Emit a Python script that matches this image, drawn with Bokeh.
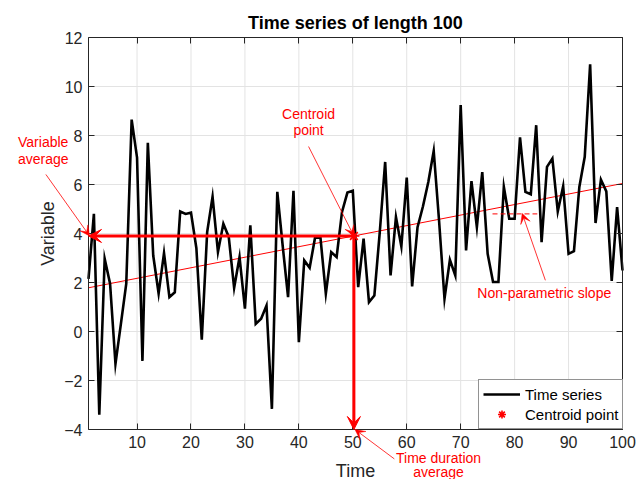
import numpy as np
from bokeh.plotting import figure
from bokeh.models import (Range1d, LinearAxis, FixedTicker, Arrow, VeeHead, Label,
                          CustomLabelingPolicy, Grid)
from bokeh.embed import file_html
from bokeh.resources import INLINE

# ---- data -------------------------------------------------------------
time = np.arange(1, 101)
variable = [
    2.15, 4.80, -3.40, 2.97, 1.95, -1.32, 0.30, 1.95, 8.65, 7.10,
    -1.20, 7.70, 3.10, 1.55, 3.20, 1.40, 1.60, 4.90, 4.80, 4.85,
    3.40, -0.33, 4.06, 5.50, 3.25, 4.40, 3.86, 1.78, 3.04, 0.93,
    4.33, 0.31, 0.52, 1.06, -3.16, 5.70, 3.50, 1.40, 5.74, -0.44,
    2.90, 2.60, 3.83, 3.83, 1.54, 3.24, 3.04, 4.88, 5.67, 5.74,
    1.81, 3.79, 1.20, 1.47, 4.06, 6.92, 2.29, 4.67, 3.47, 6.28,
    1.84, 4.26, 5.10, 6.10, 7.37, 4.50, 1.34, 2.93, 2.29, 9.24,
    3.31, 6.14, 4.26, 6.51, 3.17, 2.02, 2.02, 5.90, 4.60, 4.60,
    7.92, 5.70, 5.60, 8.42, 3.65, 6.72, 7.06, 4.90, 5.93, 3.17,
    3.28, 5.90, 7.13, 10.91, 4.43, 6.20, 5.72, 2.06, 5.08, 2.49,
]
centroid_time = 50.2          # time-duration average
variable_average = 3.9        # variable average
slope = 0.043                 # non-parametric (Sen) slope through the centroid
x_ticks = [10, 20, 30, 40, 50, 60, 70, 80, 90, 100]
y_ticks = [-4, -2, 0, 2, 4, 6, 8, 10, 12]
x_lim = (1, 100)
y_lim = (-4, 12)

FONT = "Liberation Sans"
RED = "#ff0000"
AXC = "#262626"

# The frame fills the whole canvas so that annotations may sit outside the
# axes box; the box itself is drawn with axes pinned to the data limits.
W, H = 636, 479
BOX_L, BOX_R, BOX_T, BOX_B = 88, 622, 37, 429
sx = (BOX_R - BOX_L) / (x_lim[1] - x_lim[0])
sy = (BOX_B - BOX_T) / (y_lim[1] - y_lim[0])
x_range = Range1d(x_lim[0] - BOX_L / sx, x_lim[1] + (W - BOX_R) / sx)
y_range = Range1d(y_lim[0] - (H - BOX_B) / sy, y_lim[1] + BOX_T / sy)

p = figure(width=W, height=H, output_backend="svg", toolbar_location=None,
           x_range=x_range, y_range=y_range,
           x_axis_location=None, y_axis_location=None,
           min_border=0, background_fill_color="white",
           border_fill_color="white")
p.outline_line_color = None
p.title.visible = False
p.center = [r for r in p.center if not isinstance(r, Grid)]

# grid lines inside the axes box
p.segment(x0=x_ticks, y0=[y_lim[0]] * len(x_ticks), x1=x_ticks,
          y1=[y_lim[1]] * len(x_ticks), line_color="#e3e3e3", line_width=1)
p.segment(x0=[x_lim[0]] * len(y_ticks), y0=y_ticks, x1=[x_lim[1]] * len(y_ticks),
          y1=y_ticks, line_color="#e3e3e3", line_width=1)

no_labels = CustomLabelingPolicy(code="return new Set()")


def box_axis(side, ticks, at, bounds, label=None, show_labels=True):
    ax = LinearAxis(fixed_location=at, bounds=bounds, ticker=FixedTicker(ticks=ticks))
    ax.major_tick_in = 6
    ax.major_tick_out = 0
    ax.minor_tick_line_color = None
    ax.axis_line_color = AXC
    ax.major_tick_line_color = AXC
    ax.major_label_text_font = FONT
    ax.major_label_text_font_size = "16px"
    ax.major_label_text_color = AXC
    ax.major_label_standoff = 6
    if not show_labels:
        ax.major_label_policy = no_labels
    if label:
        ax.axis_label = label
        ax.axis_label_text_font = FONT
        ax.axis_label_text_font_size = "18px"
        ax.axis_label_text_font_style = "normal"
        ax.axis_label_text_color = AXC
    p.add_layout(ax, side)
    return ax


bottom = box_axis("below", x_ticks, y_lim[0], x_lim, "Time")
bottom.axis_label_standoff = 10
left = box_axis("left", y_ticks, x_lim[0], y_lim, "Variable")
left.axis_label_standoff = 3
box_axis("above", x_ticks, y_lim[1], x_lim, show_labels=False)
box_axis("right", y_ticks, x_lim[1], y_lim, show_labels=False)

# title
p.add_layout(Label(x=(x_lim[0] + x_lim[1]) / 2, y=y_lim[1] + 15 / sy,
                   text="Time series of length 100", text_font=FONT,
                   text_font_size="18px", text_font_style="bold", text_color="black",
                   text_align="center", text_baseline="middle"))

# Sen slope line through the centroid
slope_x = np.array(x_lim, dtype=float)
slope_y = variable_average + slope * (slope_x - centroid_time)
p.line(slope_x, slope_y, line_color=RED, line_width=1)

# the series
p.line(time, variable, line_color="black", line_width=2.6, line_join="miter",
       legend_label="Time series")

# dashed slope marker
p.line([75.9, 84.2], [4.8, 4.8], line_color=RED, line_width=1, line_dash="5 3")

# centroid arrows to the axes
for xe, ye in ((x_lim[0], variable_average), (centroid_time, y_lim[0])):
    p.add_layout(Arrow(x_start=centroid_time, y_start=variable_average,
                       x_end=xe, y_end=ye, line_color=RED, line_width=3,
                       end=VeeHead(size=13, fill_color=RED, line_color=RED,
                                   line_width=1)))

p.scatter([centroid_time], [variable_average], marker="asterisk", size=11,
          line_color=RED, line_width=1.6, legend_label="Centroid point")


# text annotations with thin arrows
def note(lines, xs, ys, start, end):
    for txt, x, y in zip(lines, xs, ys):
        p.add_layout(Label(x=x, y=y, text=txt, text_font=FONT, text_font_size="14px",
                           text_color=RED, text_align="center",
                           text_baseline="middle"))
    p.add_layout(Arrow(x_start=start[0], y_start=start[1], x_end=end[0], y_end=end[1],
                       line_color=RED, line_width=0.8,
                       end=VeeHead(size=10, fill_color=RED, line_color=RED,
                                   line_width=0.5)))


note(["Variable", "average"], [-7.4, -7.4], [7.73, 7.05],
     (-6.9, 6.41), (x_lim[0] + 0.2, variable_average))
note(["Centroid", "point"], [41.8, 41.8], [8.86, 8.21],
     (41.8, 7.55), (centroid_time, variable_average))
note(["Time duration", "average"], [65.9, 65.9], [-5.17, -5.74],
     (57.7, -5.2), (centroid_time + 0.2, y_lim[0]))
note(["Non-parametric slope"], [85.5], [1.56],
     (85.7, 2.09), (81.4, 4.82))

lg = p.legend[0]
lg.location = (478, H - BOX_B)
lg.margin = 0
lg.padding = 4
lg.spacing = 0
lg.label_height = 20
lg.glyph_height = 20
lg.glyph_width = 37
lg.label_standoff = 5
lg.label_text_font = FONT
lg.label_text_font_size = "15px"
lg.label_text_color = "black"
lg.border_line_color = AXC
lg.border_line_width = 1
lg.background_fill_color = "white"
lg.background_fill_alpha = 1

open("out.html", "w").write(file_html(p, INLINE))
